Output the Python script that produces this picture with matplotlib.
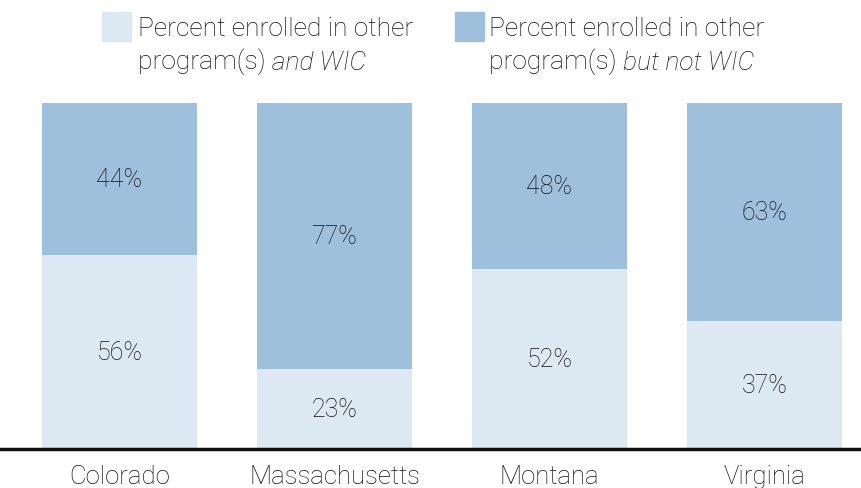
import matplotlib
matplotlib.use("Agg")
import matplotlib.pyplot as plt
from matplotlib.patches import Rectangle

states = ["Colorado", "Massachusetts", "Montana", "Virginia"]
with_wic = [56, 23, 52, 37]
without_wic = [44, 77, 48, 63]

light = "#dce8f2"
dark = "#9fc0dc"
ink = "#111111"

plt.rcParams["font.family"] = ["Roboto", "DejaVu Sans"]
plt.rcParams["font.weight"] = "light"

fig = plt.figure(figsize=(8.62, 4.89), dpi=100)
ax = fig.add_axes([0, 39 / 489, 1, (450 - 104) / 489])

x = range(len(states))
w = 155 / 215
ax.bar(x, with_wic, width=w, color=light)
ax.bar(x, without_wic, width=w, bottom=with_wic, color=dark)

for i in x:
    ax.text(i, with_wic[i] / 2, f"{with_wic[i]}%", ha="center", va="center",
            fontsize=18, color=ink)
    ax.text(i, with_wic[i] + without_wic[i] / 2, f"{without_wic[i]}%",
            ha="center", va="center", fontsize=18, color=ink)

ax.set_xlim(-119.5 / 215, (862 - 119.5) / 215)
ax.set_ylim(0, 100)
ax.set_xticks(list(x))
ax.set_xticklabels(states, fontsize=18.5, color=ink)
ax.tick_params(axis="x", length=0, pad=11)
ax.set_yticks([])
for s in ["top", "left", "right"]:
    ax.spines[s].set_visible(False)
ax.spines["bottom"].set_linewidth(2.5)
ax.spines["bottom"].set_color(ink)

# legend drawn by hand (mixed italic text)
legend = [(light, 102, 138, "and WIC"), (dark, 455, 489, "but not WIC")]
for color, px, tx, ital in legend:
    fig.patches.append(Rectangle((px / 862, 1 - 42 / 489), 29 / 862, 29 / 489,
                                 transform=fig.transFigure, color=color))
    fig.text(tx / 862, 1 - 36 / 489, "Percent enrolled in other",
             fontsize=19, color=ink, va="baseline")
    t = fig.text(tx / 862, 1 - 69 / 489, "program(s) ", fontsize=19,
                 color=ink, va="baseline")
    fig.canvas.draw()
    ax.annotate(ital, xy=(1, 0), xycoords=t, va="bottom", ha="left",
                fontsize=19, style="italic", color=ink,
                annotation_clip=False)

fig.savefig("out.png", dpi=100)
